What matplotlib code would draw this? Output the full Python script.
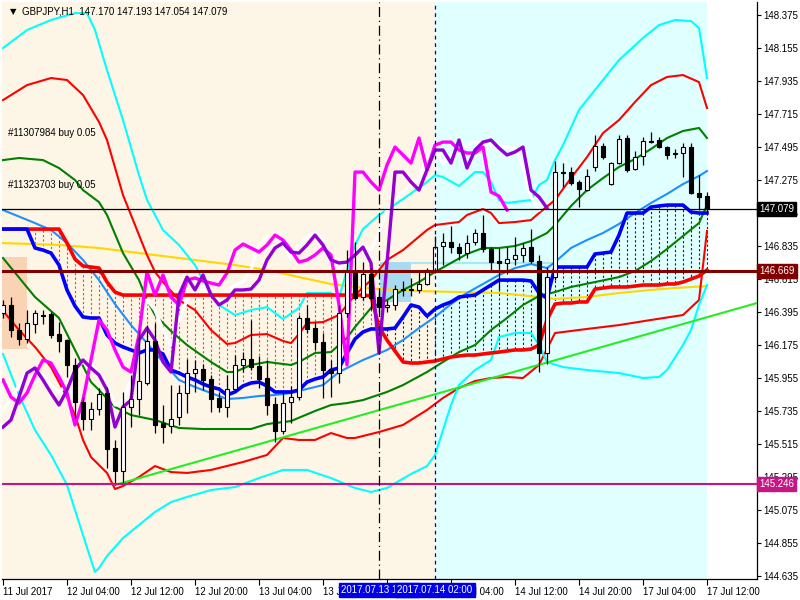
import numpy as np
import matplotlib
matplotlib.use('Agg')
import matplotlib.pyplot as plt
import matplotlib.transforms as mtransforms

plt.rcParams['font.family'] = ['Liberation Sans', 'DejaVu Sans']

# candles, one per H1 bar (bar 0 = 11 Jul 20:00)
opens = [146.388, 146.442, 146.275, 146.215, 146.315, 146.375, 146.382, 146.248, 146.208, 146.042,
         145.795, 145.682, 145.748, 145.855, 145.488, 145.335, 145.762, 145.815, 145.922, 146.202,
         145.655, 145.635, 145.695, 145.855, 145.988, 146.015, 145.948, 145.822, 145.762, 145.882,
         146.042, 146.082, 146.035, 145.955, 145.782, 145.602, 145.795, 145.828, 146.355, 146.288,
         146.195, 146.015, 145.988, 146.388, 146.668, 146.495, 146.648, 146.495, 146.428, 146.442,
         146.542, 146.542, 146.542, 146.582, 146.675, 146.835, 146.862, 146.828, 146.788, 146.862,
         146.922, 146.815, 146.735, 146.722, 146.748, 146.775, 146.828, 146.735, 146.122, 146.628,
         147.322, 147.328, 147.262, 147.208, 147.362, 147.502, 147.248, 147.388, 147.555, 147.348,
         147.435, 147.535, 147.542, 147.495, 147.455, 147.455, 147.495, 147.188, 147.170]
highs = [146.475, 146.495, 146.322, 146.408, 146.408, 146.408, 146.395, 146.328, 146.215, 146.088,
         145.828, 145.795, 145.888, 145.895, 145.542, 145.862, 145.975, 146.275, 146.308, 146.322,
         145.775, 145.908, 145.908, 146.082, 146.075, 146.048, 145.975, 145.862, 145.975, 146.108,
         146.128, 146.342, 146.102, 146.075, 145.828, 145.855, 145.902, 146.375, 146.442, 146.328,
         146.255, 146.075, 146.442, 146.808, 146.862, 146.728, 146.688, 146.528, 146.475, 146.575,
         146.602, 146.622, 146.662, 146.688, 146.902, 146.922, 146.968, 146.855, 146.908, 146.948,
         147.042, 146.828, 146.822, 146.828, 146.895, 146.855, 146.948, 146.775, 146.695, 147.402,
         147.388, 147.362, 147.275, 147.348, 147.575, 147.522, 147.395, 147.575, 147.575, 147.468,
         147.562, 147.595, 147.562, 147.502, 147.482, 147.522, 147.522, 147.308, 147.193]
lows = [146.355, 146.228, 146.175, 146.188, 146.255, 146.315, 146.222, 146.128, 145.962, 145.688,
        145.608, 145.608, 145.708, 145.355, 145.242, 145.248, 145.628, 145.708, 145.908, 145.588,
        145.522, 145.588, 145.642, 145.722, 145.862, 145.875, 145.728, 145.728, 145.695, 145.862,
        145.995, 146.008, 145.888, 145.708, 145.528, 145.582, 145.655, 145.808, 146.255, 146.142,
        145.822, 145.828, 145.922, 146.362, 146.475, 146.475, 146.408, 146.395, 146.395, 146.408,
        146.502, 146.502, 146.522, 146.575, 146.655, 146.708, 146.788, 146.742, 146.755, 146.842,
        146.795, 146.675, 146.542, 146.648, 146.708, 146.728, 146.722, 145.995, 146.048, 146.608,
        147.228, 147.242, 147.095, 147.202, 147.335, 147.415, 147.242, 147.382, 147.328, 147.342,
        147.375, 147.522, 147.488, 147.415, 147.422, 147.295, 147.182, 147.075, 147.054]
closes = [146.442, 146.275, 146.215, 146.322, 146.388, 146.368, 146.242, 146.202, 146.042, 145.795,
          145.682, 145.748, 145.848, 145.482, 145.335, 145.762, 145.815, 145.935, 146.202, 145.642,
          145.628, 145.682, 145.855, 145.988, 146.015, 145.942, 145.815, 145.762, 145.882, 146.042,
          146.082, 146.028, 145.948, 145.775, 145.602, 145.788, 145.828, 146.355, 146.282, 146.195,
          146.008, 145.988, 146.388, 146.668, 146.488, 146.648, 146.488, 146.428, 146.442, 146.548,
          146.548, 146.548, 146.582, 146.675, 146.828, 146.862, 146.828, 146.788, 146.855, 146.922,
          146.815, 146.728, 146.722, 146.748, 146.775, 146.822, 146.735, 146.122, 146.628, 147.328,
          147.328, 147.255, 147.215, 147.302, 147.502, 147.428, 147.388, 147.548, 147.342, 147.428,
          147.535, 147.528, 147.495, 147.442, 147.448, 147.495, 147.188, 147.162, 147.079]

# ichimoku cloud edges per bar
span_a = [146.948, 146.948, 146.948, 146.948, 146.822, 146.808, 146.788, 146.708, 146.542, 146.435,
          146.362, 146.355, 146.355, 146.242, 146.188, 146.162, 146.142, 146.122, 146.142, 146.142,
          146.115, 146.008, 145.988, 145.962, 145.942, 145.915, 145.895, 145.882, 145.842, 145.862,
          145.902, 145.922, 145.928, 145.902, 145.862, 145.862, 145.862, 145.875, 145.928, 145.948,
          145.962, 146.008, 146.022, 146.122, 146.215, 146.262, 146.282, 146.282, 146.282, 146.288,
          146.362, 146.442, 146.428, 146.368, 146.415, 146.442, 146.462, 146.495, 146.502, 146.508,
          146.542, 146.575, 146.608, 146.608, 146.608, 146.608, 146.602, 146.522, 146.488, 146.695,
          146.695, 146.695, 146.695, 146.695, 146.782, 146.788, 146.795, 146.908, 147.055, 147.055,
          147.055, 147.095, 147.102, 147.108, 147.108, 147.108, 147.062, 147.055, 147.055]
span_b = [146.948] * 8 + [146.855, 146.748, 146.702, 146.695, 146.688, 146.595, 146.528] + [146.508] * 31 + \
         [146.502, 146.295, 146.208, 146.135, 146.062, 146.055, 146.055, 146.062, 146.068, 146.082,
          146.095, 146.102, 146.108, 146.108, 146.115, 146.122, 146.128, 146.135, 146.142, 146.142,
          146.148, 146.175, 146.342, 146.448, 146.455, 146.455, 146.462, 146.462, 146.548, 146.555,
          146.562, 146.562, 146.562, 146.568, 146.575, 146.575, 146.575, 146.582, 146.582, 146.595,
          146.615, 146.635, 146.675]

# outer (cyan) bands
cyan_up_x = [0, 3, 6, 9, 10.5, 11.5, 13, 15, 17, 18, 20, 22, 24, 25, 27, 29, 31, 33, 35, 37, 38, 41, 42, 43,
             44, 45, 47, 50, 53, 54, 55, 57, 59, 60, 61, 62, 63, 66, 67, 68, 69, 70, 72, 75, 77, 80, 82, 84,
             86, 87, 88]
cyan_up_y = [148.155, 148.275, 148.342, 148.388, 148.388, 148.275, 148.008, 147.675, 147.308, 147.142,
             146.942, 146.842, 146.708, 146.608, 146.442, 146.375, 146.408, 146.428, 146.348, 146.422,
             146.522, 146.522, 146.488, 146.675, 146.842, 146.948, 147.042, 147.148, 147.262, 147.308,
             147.295, 147.235, 147.328, 147.328, 147.262, 147.142, 147.122, 147.142, 147.242, 147.275,
             147.408, 147.508, 147.742, 147.942, 148.075, 148.222, 148.308, 148.342, 148.335, 148.288,
             147.955]
cyan_lo_x = [0, 2, 4, 6, 8, 9, 10, 11, 11.5, 12, 13, 15, 17, 19, 21, 23, 26, 29, 32, 35, 38, 41, 44, 46,
             48, 51, 53, 54, 55, 56, 57, 59, 61, 62, 64, 66, 67, 68, 70, 73, 77, 80, 82, 83, 85, 86, 87, 88]
cyan_lo_y = [146.115, 145.842, 145.608, 145.442, 145.242, 145.075, 144.908, 144.742, 144.662, 144.688,
             144.768, 144.888, 144.975, 145.062, 145.128, 145.162, 145.208, 145.228, 145.288, 145.342,
             145.342, 145.288, 145.222, 145.195, 145.222, 145.315, 145.368, 145.442, 145.608, 145.775,
             145.908, 146.008, 146.075, 146.228, 146.255, 146.255, 146.175, 146.062, 146.028, 146.008,
             145.988, 145.955, 145.962, 146.008, 146.175, 146.275, 146.442, 146.575]

# red bands
red_up_x = [0, 3, 6, 8, 10, 12, 13, 15, 16, 18, 19, 20, 22, 24, 26, 28, 29, 31, 33, 35, 36, 37, 38, 40, 42,
            43, 44, 46, 48, 50, 53, 54, 57, 58, 60, 61, 62, 64, 66, 67, 69, 71, 73, 75, 77, 79, 81, 83, 85,
            87, 88]
red_up_y = [147.808, 147.908, 147.955, 147.942, 147.842, 147.662, 147.542, 147.175, 147.042, 146.775,
            146.662, 146.595, 146.475, 146.408, 146.275, 146.182, 146.188, 146.242, 146.248, 146.202,
            146.188, 146.248, 146.322, 146.328, 146.375, 146.442, 146.508, 146.608, 146.742, 146.808,
            146.942, 146.975, 146.995, 147.042, 147.082, 147.055, 146.988, 146.995, 147.008, 147.055,
            147.142, 147.288, 147.428, 147.588, 147.675, 147.795, 147.908, 147.962, 147.975, 147.928,
            147.755]
red_lo_x = [0, 2, 4, 6, 8, 9, 10, 11, 12, 13, 14, 15, 17, 19, 21, 23, 26, 30, 33, 35, 37, 39, 41, 43, 44,
            47, 50, 53, 55, 57, 59, 61, 63, 65, 67, 69, 73, 77, 81, 85, 87, 88]
red_lo_y = [146.402, 146.275, 146.162, 146.028, 145.828, 145.708, 145.542, 145.428, 145.375, 145.322,
            145.215, 145.235, 145.295, 145.368, 145.328, 145.322, 145.342, 145.395, 145.442, 145.555,
            145.542, 145.542, 145.588, 145.555, 145.555, 145.595, 145.642, 145.742, 145.822, 145.888,
            145.935, 145.955, 145.962, 145.955, 146.042, 146.255, 146.282, 146.308, 146.342, 146.375,
            146.475, 146.935]

# green bands
grn_up_x = [0, 2, 5, 7, 9, 10, 12, 13, 15, 17, 18, 19, 21, 23, 26, 28, 29, 31, 33, 36, 37, 39, 41, 43, 44,
            46, 48, 50, 52, 54, 56, 58, 60, 62, 64, 66, 68, 69, 71, 73, 75, 77, 79, 81, 83, 85, 87, 88]
grn_up_y = [147.408, 147.422, 147.408, 147.355, 147.275, 147.208, 147.128, 147.042, 146.788, 146.608,
            146.475, 146.375, 146.268, 146.175, 146.062, 145.995, 145.995, 146.042, 146.062, 146.042,
            146.062, 146.122, 146.128, 146.222, 146.295, 146.422, 146.475, 146.542, 146.595, 146.662,
            146.722, 146.782, 146.822, 146.822, 146.835, 146.868, 146.922, 146.975, 147.102, 147.208,
            147.288, 147.362, 147.415, 147.482, 147.555, 147.602, 147.622, 147.555]
grn_lo_x = [0, 4, 7, 9, 11, 12, 14, 16, 19, 22, 25, 31, 33, 36, 39, 41, 43, 45, 48, 50, 53, 55, 57, 59, 61,
            63, 65, 67, 69, 71, 74, 77, 79, 81, 83, 85, 87, 88]
grn_lo_y = [146.755, 146.495, 146.355, 146.142, 145.928, 145.875, 145.762, 145.708, 145.675, 145.622,
            145.615, 145.615, 145.648, 145.668, 145.735, 145.775, 145.788, 145.808, 145.862, 145.908,
            145.995, 146.062, 146.128, 146.175, 146.275, 146.355, 146.442, 146.502, 146.528, 146.562,
            146.595, 146.628, 146.668, 146.735, 146.815, 146.902, 146.988, 147.108]

# moving averages
ma_blue_x = [0, 4, 6, 8, 10, 12, 14, 16, 18, 20, 22, 24, 26, 28, 30, 32, 34, 36, 38, 40, 42, 45, 48, 50, 52,
             54, 56, 58, 60, 62, 64, 66, 68, 69, 71, 73, 75, 77, 79, 81, 83, 85, 87, 88]
ma_blue_y = [147.075, 146.988, 146.942, 146.855, 146.742, 146.608, 146.448, 146.308, 146.188, 146.062,
             145.942, 145.895, 145.855, 145.815, 145.822, 145.835, 145.842, 145.855, 145.882, 145.908,
             145.995, 146.075, 146.142, 146.208, 146.288, 146.362, 146.448, 146.522, 146.582, 146.642,
             146.688, 146.715, 146.688, 146.728, 146.822, 146.875, 146.922, 146.982, 147.055, 147.122,
             147.182, 147.248, 147.302, 147.335]
ma_gold_x = [0, 7, 12, 17, 22, 25, 29, 33, 37, 41, 44, 47, 52, 57, 62, 67, 69, 73, 77, 81, 84, 88]
ma_gold_y = [146.855, 146.842, 146.822, 146.788, 146.755, 146.735, 146.708, 146.675, 146.628, 146.582,
             146.562, 146.548, 146.535, 146.528, 146.522, 146.495, 146.482, 146.495, 146.522, 146.542,
             146.555, 146.568]

# lagging lines
mag_x = list(range(0, 64))
mag_y = [145.942, 145.828, 145.788, 145.855, 145.975, 146.075, 146.055, 145.962, 145.855, 145.642,
         145.808, 146.075, 146.342, 146.275, 146.142, 146.028, 145.995, 146.242, 146.662, 146.508,
         146.642, 146.495, 146.442, 146.608, 146.622, 146.602, 146.588, 146.575, 146.655, 146.808,
         146.848, 146.822, 146.795, 146.842, 146.908, 146.875, 146.808, 146.728, 146.742, 146.775,
         146.822, 146.775, 146.442, 146.042, 147.328, 147.328, 147.262, 147.208, 147.375, 147.495,
         147.442, 147.388, 147.555, 147.342, 147.508, 147.528, 147.528, 147.475, 147.455, 147.455,
         147.495, 147.195, 147.168, 147.075]
vio_x = list(range(0, 69))
vio_y = [145.628, 145.675, 145.828, 145.988, 146.022, 145.942, 145.855, 145.775, 145.875, 146.008,
         146.075, 146.022, 145.975, 145.875, 145.628, 145.762, 145.808, 146.208, 146.288, 146.208,
         146.062, 145.995, 146.508, 146.628, 146.542, 146.642, 146.508, 146.442, 146.475, 146.542,
         146.542, 146.548, 146.608, 146.742, 146.822, 146.855, 146.795, 146.788, 146.842, 146.908,
         146.842, 146.742, 146.722, 146.728, 146.775, 146.828, 146.722, 146.122, 146.722, 147.328,
         147.328, 147.262, 147.208, 147.342, 147.475, 147.475, 147.388, 147.542, 147.355, 147.475,
         147.528, 147.542, 147.488, 147.442, 147.462, 147.495, 147.208, 147.162, 147.088]
white_x = list(range(0, 68))
white_y = [145.742, 145.808, 145.908, 145.995, 146.022, 145.975, 145.908, 145.862, 145.908, 146.022,
           146.062, 146.042, 145.995, 145.908, 145.775, 145.808, 145.942, 146.242, 146.475, 146.408,
           146.275, 146.175, 146.342, 146.475, 146.542, 146.542, 146.508, 146.475, 146.542, 146.575,
           146.595, 146.675, 146.842, 146.895, 146.895, 146.842, 146.755, 146.842, 146.895, 146.922,
           146.875, 146.728, 146.688, 146.728, 146.775, 146.842, 146.808, 146.928, 147.075, 147.142,
           147.195, 147.242, 147.288, 147.442, 147.475, 147.388, 147.442, 147.475, 147.508, 147.528,
           147.515, 147.508, 147.502, 147.495, 147.488, 147.362, 147.162, 147.075]

trend_x = [14, 94.25]
trend_y = [145.242, 146.455]

price_ticks = [148.375, 148.155, 147.935, 147.715, 147.495, 147.275, 147.055, 146.835, 146.615,
               146.395, 146.175, 145.955, 145.735, 145.515, 145.295, 145.075, 144.855, 144.635]
time_ticks = [0, 8, 16, 24, 32, 40, 48, 56, 64, 72, 80, 88]
time_labels = ['11 Jul 2017', '12 Jul 04:00', '12 Jul 12:00', '12 Jul 20:00', '13 Jul 04:00',
               '13 Jul 12:00', '13 Jul 20:00', '14 Jul 04:00', '14 Jul 12:00', '14 Jul 20:00',
               '17 Jul 04:00', '17 Jul 12:00']

bid = 147.079
level_brown = 146.669
level_pink = 145.246
vline_1, vline_1_label = 47, '2017.07.13 19:00'
vline_2, vline_2_label = 54, '2017.07.14 02:00'
orders = [('#11307984 buy 0.05', 147.588), ('#11323703 buy 0.05', 147.242)]

fig = plt.figure(figsize=(8, 6), dpi=100)
ax = fig.add_axes([2 / 800, 21 / 600, 755 / 800, 577 / 600])
ax.set_xlim(-0.125, 94.25)
ax.set_ylim(144.615, 148.462)
ax.set_facecolor('white')

# background zones
ax.axvspan(-0.125, 54, color='#fdf5e6', zorder=0, lw=0)
ax.axvspan(54, 88, color='#e0ffff', zorder=0, lw=0)
ax.fill_between([-0.125, 3], 146.148, 146.762, color='#fad2b4', zorder=0.5, lw=0)
ax.fill_between([47.1, 51], 146.462, 146.728, color='#a8daf0', zorder=0.5, lw=0)
ax.plot([51, 69], [146.722, 146.722], color='#b0e6f0', lw=1.5, zorder=0.6)

bars = np.arange(len(opens))
sa = np.array(span_a)
sb = np.array(span_b)
hatch_col = np.where(sb > sa, '#ff4500', '#222222')
ax.vlines(bars, sa, sb, colors=hatch_col, linestyles=(0, (2, 2)), lw=0.8, zorder=1)

ax.plot(ma_gold_x, ma_gold_y, color='#ffd700', lw=1.5, zorder=2)
ax.plot(ma_blue_x, ma_blue_y, color='#1e90ff', lw=1.5, zorder=2)
ax.plot(grn_up_x, grn_up_y, color='#008000', lw=1.5, zorder=2)
ax.plot(grn_lo_x, grn_lo_y, color='#008000', lw=1.5, zorder=2)
ax.plot(red_up_x, red_up_y, color='#ff0000', lw=1.5, zorder=2)
ax.plot(red_lo_x, red_lo_y, color='#ff0000', lw=1.5, zorder=2)
ax.plot(cyan_up_x, cyan_up_y, color='#00ffff', lw=1.5, zorder=2)
ax.plot(cyan_lo_x, cyan_lo_y, color='#00ffff', lw=1.5, zorder=2)
ax.plot(white_x, white_y, color='white', lw=2.4, zorder=2.5)
ax.plot(bars, sb, color='#ff0000', lw=2.6, zorder=3)
ax.plot(bars, sa, color='#0000ff', lw=2.6, zorder=3)
ax.plot(mag_x, mag_y, color='#ff00ff', lw=2.4, zorder=3)
ax.plot(vio_x, vio_y, color='#9400d3', lw=2.4, zorder=3)
ax.plot(trend_x, trend_y, color='#22ee22', lw=1.5, zorder=3)

# candles
o = np.array(opens)
c = np.array(closes)
ax.vlines(bars, lows, highs, color='black', lw=0.9, zorder=4)
body_col = np.where(c >= o, 'white', 'black')
ax.bar(bars, np.maximum(np.abs(c - o), 0.004), bottom=np.minimum(o, c), width=0.62,
       color=body_col, edgecolor='black', lw=0.8, zorder=5)

# horizontal levels and vertical markers
ax.axhline(bid, color='black', lw=0.9, zorder=6)
ax.axhline(level_brown, color='#800000', lw=2.2, zorder=6)
ax.axhline(level_pink, color='#c71585', lw=1.5, zorder=6)
ax.axvline(vline_1, color='black', lw=0.9, ls=(0, (8, 3, 1, 3)), zorder=6)
ax.axvline(vline_2, color='#0000cc', lw=0.9, ls=(0, (3, 3)), zorder=6)

for txt, p in orders:
    ax.text(0.6, p, txt, fontsize=7, va='center', ha='left', zorder=7)
ax.text(0.011, 0.983, '\u25bc', transform=ax.transAxes, fontsize=6, va='center', ha='left',
        family='DejaVu Sans')
ax.text(0.027, 0.983, 'GBPJPY,H1  ' + '147.170 147.193 147.054 147.079', transform=ax.transAxes,
        fontsize=7, va='center', ha='left')

# axes styling
for s in ['top', 'left']:
    ax.spines[s].set_visible(False)
ax.spines['right'].set_linewidth(0.9)
ax.spines['bottom'].set_linewidth(0.9)
ax.yaxis.tick_right()
ax.set_yticks(price_ticks)
ax.set_yticklabels([f'{v:.3f}' for v in price_ticks], fontsize=7)
ax.tick_params(axis='y', length=3, width=0.8, pad=1.5)
ax.set_xticks(time_ticks)
ax.set_xticklabels(time_labels, fontsize=7, ha='left')
ax.tick_params(axis='x', length=4, width=0.8, pad=2)

ytr = mtransforms.blended_transform_factory(ax.transAxes, ax.transData)
for p, col in [(bid, 'black'), (level_brown, '#800000'), (level_pink, '#c71585')]:
    ax.text(1.003, p, f'{p:.3f}', transform=ytr, fontsize=7, color='white', va='center', ha='left',
            clip_on=False, zorder=10,
            bbox=dict(boxstyle='square,pad=0.2', facecolor=col, edgecolor=col))

xtr = mtransforms.blended_transform_factory(ax.transData, ax.transAxes)
for xv, lab in [(vline_1, vline_1_label), (vline_2, vline_2_label)]:
    ax.text(xv, -0.019, lab, transform=xtr, fontsize=7, color='white', va='center', ha='center',
            clip_on=False, zorder=10,
            bbox=dict(boxstyle='square,pad=0.2', facecolor='#0000e6', edgecolor='#0000e6'))

fig.savefig('out.png', dpi=100)
